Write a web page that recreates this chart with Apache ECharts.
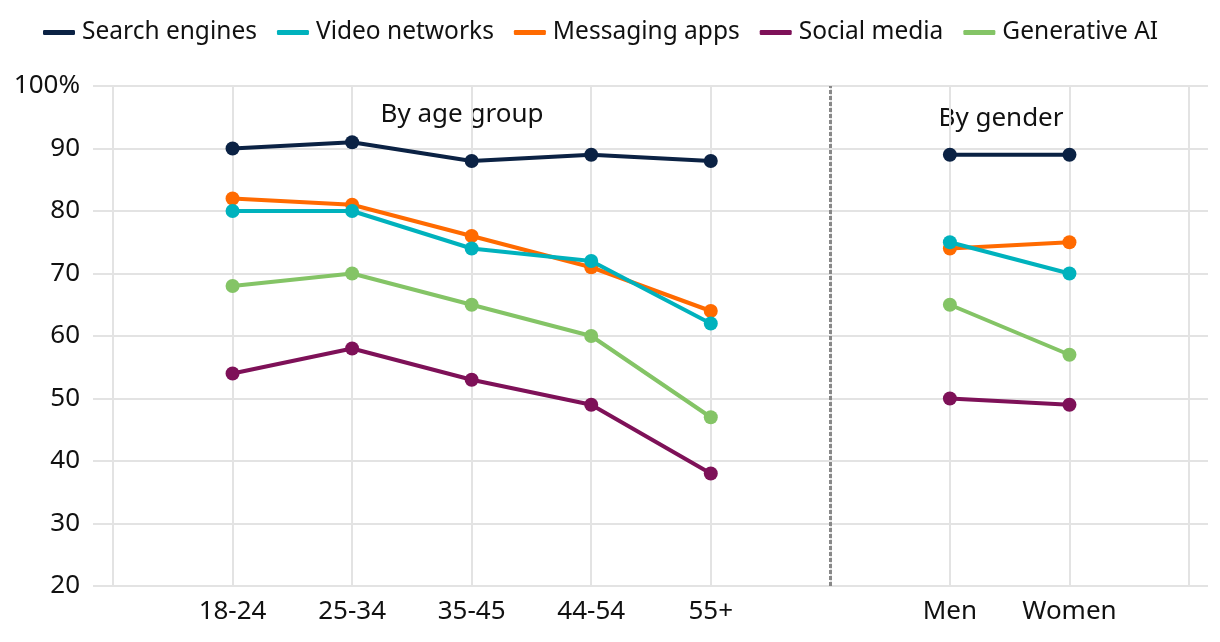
<!DOCTYPE html>
<html>
<head>
<meta charset="utf-8">
<script src="https://cdn.jsdelivr.net/npm/echarts@6/dist/echarts.min.js"></script>
<style>
html,body{margin:0;padding:0;background:#fff;}
#c{width:1220px;height:642px;}
</style>
</head>
<body>
<div id="c"></div>
<script>
const categories = ["", "18-24", "25-34", "35-45", "44-54", "55+", "", "Men", "Women", ""];
const searchEngines = [null, 90, 91, 88, 89, 88, null, 89, 89, null];
const videoNetworks = [null, 80, 80, 74, 72, 62, null, 75, 70, null];
const messagingApps = [null, 82, 81, 76, 71, 64, null, 74, 75, null];
const socialMedia   = [null, 54, 58, 53, 49, 38, null, 50, 49, null];
const generativeAI  = [null, 68, 70, 65, 60, 47, null, 65, 57, null];
const seriesNames = ["Search engines", "Video networks", "Messaging apps", "Social media", "Generative AI"];
const colors = ["#0b2244", "#00b2bd", "#ff6a00", "#7e1158", "#84c466"];
const yTicks = {min: 20, max: 100, interval: 10};

const FONT = '"Noto Sans"';
const chart = echarts.init(document.getElementById('c'), null, {renderer: 'canvas'});
const allData = [searchEngines, videoNetworks, messagingApps, socialMedia, generativeAI];

const series = allData.map((d, i) => ({
  name: seriesNames[i],
  type: 'line',
  xAxisIndex: 1,
  yAxisIndex: 1,
  data: d,
  connectNulls: false,
  symbol: 'circle',
  symbolSize: 14,
  lineStyle: {width: 4, color: colors[i]},
  itemStyle: {color: colors[i]},
  z: 10 - i,
  animation: false
}));
series[0].markLine = {
  silent: true,
  symbol: ['none', 'none'],
  label: {show: false},
  lineStyle: {color: '#888', type: [4, 2], width: 3},
  data: [{xAxis: 6}],
  animation: false
};

chart.setOption({
  animation: false,
  backgroundColor: '#fff',
  textStyle: {fontFamily: FONT},
  color: colors,
  legend: {
    left: 38,
    top: 15,
    icon: 'roundRect',
    itemWidth: 32,
    itemHeight: 5,
    itemGap: 20,
    textStyle: {fontFamily: FONT, fontSize: 24.5, color: '#111', padding: [0, 0, 0, 2]},
    data: seriesNames
  },
  grid: [
    {left: 93, right: 12, top: 86, bottom: 56},
    {left: 113, right: 31, top: 86, bottom: 56}
  ],
  xAxis: [
    {gridIndex: 0, type: 'value', show: false, min: 0, max: 1},
    {
      gridIndex: 1, type: 'category', data: categories, boundaryGap: false,
      axisLine: {show: false}, axisTick: {show: false},
      axisLabel: {interval: 0, fontFamily: FONT, fontSize: 26, color: '#111', margin: 13},
      splitLine: {show: true, interval: 0, lineStyle: {color: '#e3e3e3', width: 2}}
    }
  ],
  yAxis: [
    {
      gridIndex: 0, type: 'value', min: yTicks.min, max: yTicks.max, interval: yTicks.interval,
      axisLine: {show: false}, axisTick: {show: false},
      axisLabel: {fontFamily: FONT, fontSize: 26, color: '#111', margin: 13,
        formatter: v => v === 100 ? '100%' : String(v)},
      splitLine: {show: true, lineStyle: {color: '#e3e3e3', width: 2}}
    },
    {
      gridIndex: 1, type: 'value', min: yTicks.min, max: yTicks.max, interval: yTicks.interval,
      show: false, splitLine: {show: false}
    }
  ],
  graphic: [
    {type: 'text', style: {text: 'By age group', x: 462, y: 115, align: 'center', verticalAlign: 'middle', font: '26px "Noto Sans"', fill: '#111'}},
    {type: 'text', style: {text: 'By gender', x: 1001, y: 119, align: 'center', verticalAlign: 'middle', font: '26px "Noto Sans"', fill: '#111'}}
  ],
  series: series
});
</script>
</body>
</html>
